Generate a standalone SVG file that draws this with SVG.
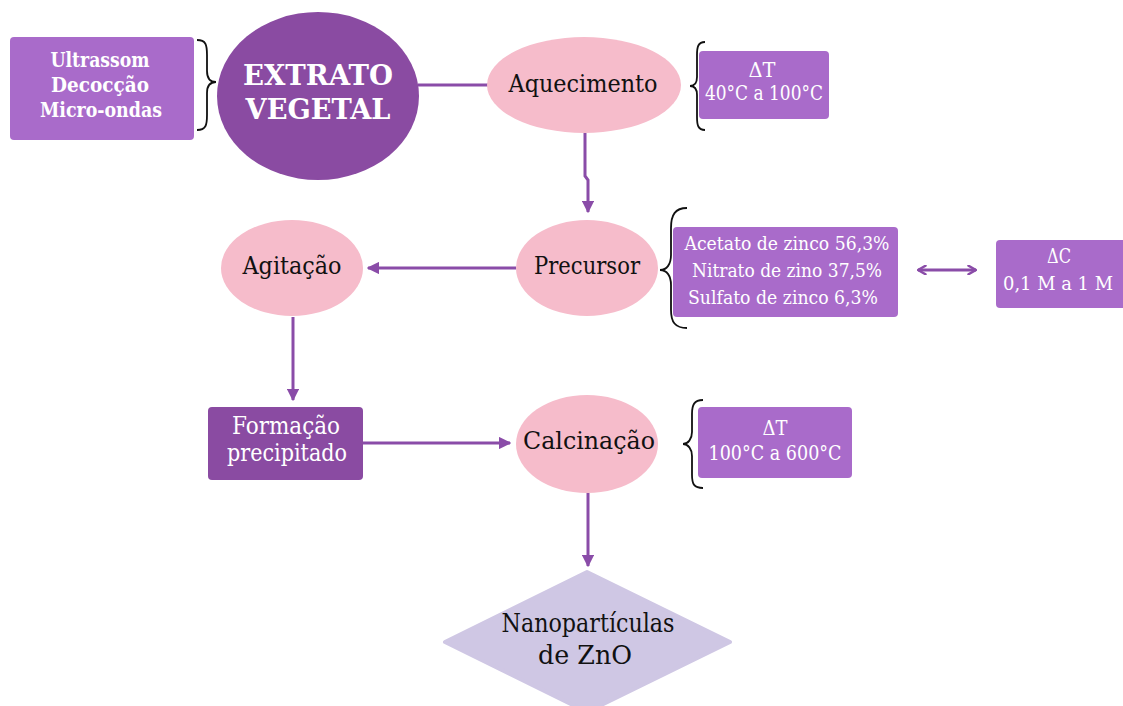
<svg xmlns="http://www.w3.org/2000/svg" width="1123" height="706" viewBox="0 0 1123 706">
<defs>
<style>
.pink{fill:#f6bccb}
.mid{fill:#a96bca}
.dark{fill:#8a4ba2}
.dia{fill:#cfc7e4}
.t{text-anchor:middle}
.w{fill:#ffffff}
.k{fill:#111111}
.b{font-weight:bold}
.brace{fill:none;stroke:#111;stroke-width:1.8}
.con{fill:none;stroke:#8a4ca8;stroke-width:3}
</style>
<marker id="ah" viewBox="0 0 10 10" refX="9" refY="5" markerWidth="4.2" markerHeight="4.2" orient="auto" markerUnits="strokeWidth">
<path d="M0,0 L10,5 L0,10 Z" fill="#8a4ca8"/>
</marker>
<marker id="chev" viewBox="0 0 10 10" refX="9" refY="5" markerWidth="3.6" markerHeight="3.6" orient="auto-start-reverse" markerUnits="strokeWidth">
<path d="M2,1 L9,5 L2,9" fill="none" stroke="#8a4ca8" stroke-width="2.2" stroke-linecap="round" stroke-linejoin="round"/>
</marker>
</defs>
<rect width="1123" height="706" fill="#ffffff"/>

<g id="connectors">
<line class="con" x1="418" y1="85" x2="488" y2="85"/>
<path class="con" d="M585,133 L585,176 L588,180 L588,212" marker-end="url(#ah)"/>
<line class="con" x1="516" y1="268" x2="368" y2="268" marker-end="url(#ah)"/>
<line class="con" x1="293" y1="317" x2="293" y2="400" marker-end="url(#ah)"/>
<line class="con" x1="363" y1="443" x2="510" y2="443" marker-end="url(#ah)"/>
<line class="con" x1="588" y1="493" x2="588" y2="566" marker-end="url(#ah)"/>
<line class="con" x1="918" y1="270" x2="976" y2="270" marker-start="url(#chev)" marker-end="url(#chev)"/>
</g>

<g font-family="DejaVu Serif, serif">
<g id="metodos">
<rect class="mid" x="10" y="37" width="184" height="103" rx="4"/>
<text class="t w b" font-size="20" x="100" y="67" textLength="99" lengthAdjust="spacingAndGlyphs">Ultrassom</text>
<text class="t w b" font-size="20" x="100" y="92" textLength="98" lengthAdjust="spacingAndGlyphs">Decocção</text>
<text class="t w b" font-size="20" x="101" y="117" textLength="122" lengthAdjust="spacingAndGlyphs">Micro-ondas</text>
</g>
<g id="brace1">
<path class="brace" d="M197,40 C206,40 207,45 207,55 L207,71 C207,78 210,82 216,82 C210,82 207,86 207,93 L207,115 C207,125 206,130 197,130"/>
</g>

<g id="extrato">
<ellipse class="dark" cx="318" cy="96" rx="101" ry="84"/>
<text class="t w b" font-size="28" x="318" y="85" textLength="150" lengthAdjust="spacingAndGlyphs">EXTRATO</text>
<text class="t w b" font-size="28" x="318" y="119" textLength="145" lengthAdjust="spacingAndGlyphs">VEGETAL</text>
</g>

<g id="aquecimento">
<ellipse class="pink" cx="584" cy="85" rx="97" ry="48"/>
<text class="t k" font-size="25" x="583" y="92" textLength="149" lengthAdjust="spacingAndGlyphs">Aquecimento</text>
</g>
<g id="brace2">
<path class="brace" d="M705,42 C698,42 697,47 697,55 L697,77 C697,83 694,86 690,86 C694,86 697,89 697,95 L697,117 C697,125 698,130 705,130"/>
</g>
<g id="deltaT1">
<rect class="mid" x="699" y="51" width="130" height="68" rx="4"/>
<text class="t w" font-size="20" x="762" y="77" textLength="27" lengthAdjust="spacingAndGlyphs">ΔT</text>
<text class="t w" font-size="20" x="764" y="100" textLength="118" lengthAdjust="spacingAndGlyphs">40°C a 100°C</text>
</g>

<g id="precursor">
<ellipse class="pink" cx="587" cy="268" rx="71" ry="48"/>
<text class="t k" font-size="25" x="587" y="274" textLength="106" lengthAdjust="spacingAndGlyphs">Precursor</text>
</g>
<g id="brace3">
<path class="brace" d="M687,208 C675,208 671,215 671,228 L671,255 C671,264 667,270 660,270 C667,270 671,276 671,285 L671,310 C671,322 675,328 687,328"/>
</g>
<g id="sais">
<rect class="mid" x="673" y="227" width="225" height="90" rx="4"/>
<text class="t w" font-size="19" x="787" y="250" textLength="205" lengthAdjust="spacingAndGlyphs">Acetato de zinco 56,3%</text>
<text class="t w" font-size="19" x="787" y="277" textLength="190" lengthAdjust="spacingAndGlyphs">Nitrato de zino 37,5%</text>
<text class="t w" font-size="19" x="783" y="304" textLength="190" lengthAdjust="spacingAndGlyphs">Sulfato de zinco 6,3%</text>
</g>
<g id="deltaC">
<rect class="mid" x="996" y="240" width="135" height="68" rx="4"/>
<text class="t w" font-size="20" x="1059" y="263" textLength="24" lengthAdjust="spacingAndGlyphs">ΔC</text>
<text class="t w" font-size="19" x="1058" y="290" textLength="110" lengthAdjust="spacingAndGlyphs">0,1 M a 1 M</text>
</g>

<g id="agitacao">
<ellipse class="pink" cx="292" cy="268" rx="71" ry="48"/>
<text class="t k" font-size="25" x="292" y="274" textLength="99" lengthAdjust="spacingAndGlyphs">Agitação</text>
</g>

<g id="formacao">
<rect class="dark" x="208" y="407" width="155" height="73" rx="4"/>
<text class="t w" font-size="24" x="286" y="434" textLength="108" lengthAdjust="spacingAndGlyphs">Formação</text>
<text class="t w" font-size="24" x="287" y="461" textLength="120" lengthAdjust="spacingAndGlyphs">precipitado</text>
</g>

<g id="calcinacao">
<ellipse class="pink" cx="587" cy="444" rx="71" ry="49"/>
<text class="t k" font-size="25" x="589" y="449" textLength="132" lengthAdjust="spacingAndGlyphs">Calcinação</text>
</g>
<g id="brace4">
<path class="brace" d="M703,400 C694,400 692,405 692,414 L692,432 C692,439 688,444 683,444 C688,444 692,449 692,456 L692,475 C692,484 694,488 703,488"/>
</g>
<g id="deltaT2">
<rect class="mid" x="698" y="407" width="154" height="71" rx="4"/>
<text class="t w" font-size="20" x="775" y="435" textLength="25" lengthAdjust="spacingAndGlyphs">ΔT</text>
<text class="t w" font-size="20" x="775" y="460" textLength="133" lengthAdjust="spacingAndGlyphs">100°C a 600°C</text>
</g>

<g id="nanoparticulas">
<path class="dia" d="M587,572 L730,642 L587,712 L445,642 Z" stroke="#cfc7e4" stroke-width="4" stroke-linejoin="round"/>
<text class="t k" font-size="26" x="588" y="632" textLength="173" lengthAdjust="spacingAndGlyphs">Nanopartículas</text>
<text class="t k" font-size="26" x="585" y="664" textLength="94" lengthAdjust="spacingAndGlyphs">de ZnO</text>
</g>
</g>
</svg>
